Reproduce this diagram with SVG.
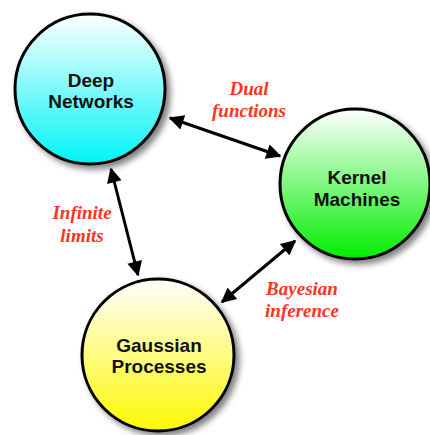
<svg xmlns="http://www.w3.org/2000/svg" width="430" height="435" viewBox="0 0 430 435">
<style>
.node{stroke:#000;stroke-width:3}
.nl{font-family:"Liberation Sans",Arial,sans-serif;font-weight:bold;font-size:19px;fill:#111;text-anchor:middle}
.el{font-family:"Liberation Serif","Times New Roman",serif;font-weight:bold;font-style:italic;font-size:19px;fill:#ff3322;text-anchor:middle}
.conn{stroke:#000;stroke-width:3;fill:none;marker-start:url(#ah);marker-end:url(#ah)}
</style>
<defs>
<linearGradient id="gc" x1="0" y1="0" x2="0" y2="1"><stop offset="0" stop-color="#ffffff"/><stop offset="1" stop-color="#00f4f6"/></linearGradient>
<linearGradient id="gg" x1="0" y1="0" x2="0" y2="1"><stop offset="0" stop-color="#ffffff"/><stop offset="1" stop-color="#00ee00"/></linearGradient>
<linearGradient id="gy" x1="0" y1="0" x2="0" y2="1"><stop offset="0" stop-color="#ffffff"/><stop offset="1" stop-color="#fdf800"/></linearGradient>
<filter id="sh" x="-20%" y="-20%" width="150%" height="150%"><feGaussianBlur in="SourceAlpha" stdDeviation="3"/><feOffset dx="4" dy="4" result="b"/><feComponentTransfer><feFuncA type="linear" slope="0.5"/></feComponentTransfer><feMerge><feMergeNode/><feMergeNode in="SourceGraphic"/></feMerge></filter>
<marker id="ah" viewBox="0 0 10 10" refX="9" refY="5" markerWidth="5.5" markerHeight="5" orient="auto-start-reverse" markerUnits="strokeWidth"><path d="M0,0 L10,5 L0,10 z" fill="#000"/></marker>
</defs>
<g id="connectors">
<line class="conn" x1="170" y1="118" x2="280" y2="156"/>
<line class="conn" x1="111" y1="169" x2="138" y2="275"/>
<line class="conn" x1="295" y1="241" x2="222" y2="302"/>
</g>
<g id="deep">
<circle class="node" cx="90" cy="89" r="75" fill="url(#gc)" filter="url(#sh)"/>
<text class="nl" x="91" y="87">Deep</text>
<text class="nl" x="91" y="108">Networks</text>
</g>
<g id="kernel">
<circle class="node" cx="355" cy="184" r="75" fill="url(#gg)" filter="url(#sh)"/>
<text class="nl" x="357" y="184">Kernel</text>
<text class="nl" x="357" y="206">Machines</text>
</g>
<g id="gaussian">
<circle class="node" cx="158" cy="355" r="76" fill="url(#gy)" filter="url(#sh)"/>
<text class="nl" x="159" y="352">Gaussian</text>
<text class="nl" x="159" y="373">Processes</text>
</g>
<g id="labels">
<text class="el" x="249" y="95">Dual</text>
<text class="el" x="249" y="117">functions</text>
<text class="el" x="82" y="219">Infinite</text>
<text class="el" x="82" y="242">limits</text>
<text class="el" x="302" y="295">Bayesian</text>
<text class="el" x="302" y="317">inference</text>
</g>
</svg>
